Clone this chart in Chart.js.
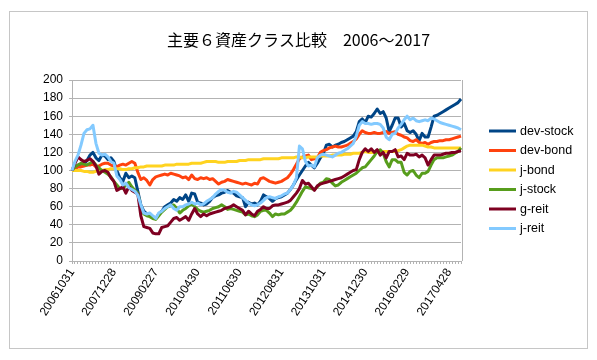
<!DOCTYPE html>
<html>
<head>
<meta charset="utf-8">
<script src="https://cdn.jsdelivr.net/npm/chart.js@4.4.1/dist/chart.umd.min.js"></script>
<style>
html,body{margin:0;padding:0;background:#fff;}
#wrap{position:relative;width:597px;height:360px;}
</style>
</head>
<body>
<div id="wrap"><canvas id="c" width="597" height="360"></canvas></div>
<script>
const chartTitle = "主要６資産クラス比較　2006～2017";
const categories = [
"20061031","20061130","20061229",
"20070131","20070228","20070330","20070427","20070531","20070629","20070731","20070831","20070928","20071031","20071130","20071228",
"20080131","20080229","20080331","20080430","20080530","20080630","20080731","20080829","20080930","20081031","20081128","20081230",
"20090130","20090227","20090331","20090430","20090529","20090630","20090731","20090831","20090930","20091030","20091130","20091230",
"20100129","20100226","20100331","20100430","20100531","20100630","20100730","20100831","20100930","20101029","20101130","20101230",
"20110131","20110228","20110331","20110428","20110531","20110630","20110729","20110831","20110930","20111031","20111130","20111230",
"20120131","20120229","20120330","20120427","20120531","20120629","20120731","20120831","20120928","20121031","20121130","20121228",
"20130131","20130228","20130329","20130430","20130531","20130628","20130731","20130830","20130930","20131031","20131129","20131230",
"20140131","20140228","20140331","20140430","20140530","20140630","20140731","20140829","20140930","20141031","20141128","20141230",
"20150130","20150227","20150331","20150430","20150529","20150630","20150731","20150831","20150930","20151030","20151130","20151230",
"20160129","20160229","20160331","20160428","20160531","20160630","20160729","20160831","20160930","20161031","20161130","20161230",
"20170131","20170228","20170331","20170428","20170531","20170630","20170731","20170831"
];
const shownTickLabels = ["20061031","20071228","20090227","20100430","20110630","20120831","20131031","20141230","20160229","20170428"];
const yTicks = [0,20,40,60,80,100,120,140,160,180,200];

const devStock = [100,103,106,107,107,111,117,120,114,111,117,116,112,114,110,
100,92,88,97,92,94,92,77,62,55,52,51,
49,47,52,55,60,62,64,68,66,70,68,73,
66,75,74,65,64,62,63,66,70,72,73,75,
76,78,76,75,72,71,70,60,65,63,64,62,
66,73,71,69,66,69,70,71,73,75,79,84,
90,95,100,105,109,106,103,108,114,119,128,129,
126,128,129,131,132,134,136,138,143,154,157,153,
160,159,163,168,163,165,158,143,150,158,158,148,
152,144,142,144,140,133,141,137,137,148,160,161,
163,165,167,169,171,173,175,179];
const devBond = [100,102,104,104,105,106,106,107,104,105,107,108,108,106,105,
104,106,107,106,108,110,108,98,90,92,89,84,
90,93,94,95,96,95,97,96,95,94,92,93,
90,95,91,90,92,91,92,90,91,88,85,87,
88,90,89,88,87,86,85,86,85,84,86,85,
91,92,90,88,87,86,87,88,90,92,96,101,
107,113,115,116,117,112,113,114,120,122,123,125,
126,127,126,126,127,128,130,132,135,140,144,142,
141,141,142,141,141,142,143,141,142,143,140,139,
137,136,133,132,134,131,130,131,129,131,132,132,
133,133,134,134,135,136,137,138];
const jBond = [100,100,100,100,99,99,98,98,99,100,100,101,101,102,102,
102,102,101,101,102,102,103,103,104,104,105,105,
105,105,105,105,106,106,106,106,107,107,107,107,
107,108,108,108,108,109,110,110,110,110,109,109,
109,110,110,110,110,111,111,111,112,112,112,112,
112,113,113,113,113,113,113,114,114,114,114,114,
115,115,114,114,115,115,115,115,116,116,116,116,
117,117,117,117,118,118,118,119,119,119,120,121,
120,120,120,120,121,121,121,121,121,121,122,123,
125,127,128,128,128,128,128,127,126,126,125,125,
125,125,125,125,125,125,125,125];
const jStock = [100,104,106,108,107,106,108,110,106,103,100,98,96,93,88,
84,80,80,84,87,82,78,75,58,52,50,49,
47,46,50,54,57,60,61,62,58,53,56,58,
61,63,60,57,55,54,55,56,58,59,60,62,
60,57,58,57,56,55,54,51,52,50,49,51,
55,56,56,53,49,52,51,52,52,54,56,60,
65,71,77,82,81,80,79,82,86,87,91,90,
86,83,84,87,89,91,93,95,97,100,103,104,
108,112,116,121,123,119,110,104,112,112,109,109,
98,95,99,100,95,92,97,97,99,106,112,114,
114,114,115,116,117,119,121,125];
const gReit = [100,108,115,112,110,111,113,110,105,96,99,100,98,92,88,
78,80,82,75,82,78,76,74,50,38,37,36,
31,30,30,37,38,39,43,47,48,45,47,49,
45,52,58,52,49,52,50,52,53,54,55,56,
58,59,60,62,60,58,56,51,55,52,50,55,
57,60,58,58,61,62,62,63,64,65,67,71,
75,80,89,85,86,82,78,83,85,86,87,88,
89,90,91,92,94,96,98,100,101,112,120,124,
121,124,120,123,117,120,114,121,121,123,115,116,
112,119,117,117,118,115,117,114,106,112,117,117,
117,118,119,119,120,120,121,122];
const jReit = [100,110,117,128,141,145,146,150,130,119,117,118,115,110,108,
94,90,84,86,81,79,77,73,62,53,52,53,
50,47,53,55,58,60,62,58,56,60,60,62,
63,65,63,64,62,63,66,68,70,74,77,79,
78,76,75,77,76,73,70,67,64,62,61,62,
64,67,70,71,70,69,71,72,74,75,79,84,
92,127,124,110,105,106,104,114,117,118,117,116,
115,117,119,120,122,124,127,130,138,150,154,152,
152,151,152,152,151,147,137,134,140,141,147,151,
156,160,156,158,155,154,155,156,155,158,157,155,
153,152,151,150,149,148,147,145];

const seriesNames = ["dev-stock","dev-bond","j-bond","j-stock","g-reit","j-reit"];
const seriesValues = [devStock, devBond, jBond, jStock, gReit, jReit];
const seriesColors = ["#004586","#ff420e","#ffd320","#579d1c","#7e0021","#83caff"];

const deco = {
  id: 'deco',
  beforeDraw(chart) {
    const ctx = chart.ctx;
    ctx.save();
    ctx.fillStyle = '#ffffff';
    ctx.fillRect(0, 0, chart.width, chart.height);
    ctx.restore();
  },
  beforeDatasetsDraw(chart) {
    const ctx = chart.ctx, a = chart.chartArea;
    ctx.save();
    ctx.strokeStyle = '#b3b3b3';
    ctx.lineWidth = 1;
    ctx.beginPath();
    ctx.moveTo(Math.round(a.right) + 1.5, a.top);
    ctx.lineTo(Math.round(a.right) + 1.5, a.bottom);
    ctx.stroke();
    ctx.restore();
  },
  afterDraw(chart) {
    const ctx = chart.ctx;
    ctx.save();
    ctx.strokeStyle = '#c6c6c6';
    ctx.lineWidth = 1;
    ctx.strokeRect(9.5, 11.5, 578, 337);
    ctx.fillStyle = '#000';
    ctx.font = '16px "Noto Sans CJK JP", sans-serif';
    ctx.textAlign = 'center';
    ctx.textBaseline = 'middle';
    ctx.fillText(chartTitle, 298.5, 40);
    ctx.font = '12.5px "Liberation Sans", Arial, sans-serif';
    ctx.textAlign = 'left';
    chart.data.datasets.forEach((ds, i) => {
      const y = 131 + i * 19.5;
      ctx.strokeStyle = ds.borderColor;
      ctx.lineWidth = 3;
      ctx.beginPath();
      ctx.moveTo(489, y);
      ctx.lineTo(516, y);
      ctx.stroke();
      ctx.fillStyle = '#000';
      ctx.fillText(ds.label, 520, y + 0.5);
    });
    ctx.restore();
  }
};

new Chart(document.getElementById('c'), {
  type: 'line',
  data: {
    labels: categories,
    datasets: seriesNames.map((name, i) => ({
      label: name,
      data: seriesValues[i],
      borderColor: seriesColors[i],
      backgroundColor: seriesColors[i],
      borderWidth: 3,
      pointRadius: 0,
      tension: 0,
      borderJoinStyle: 'round',
      order: seriesNames.length - i
    }))
  },
  options: {
    responsive: false,
    devicePixelRatio: 1,
    animation: false,
    events: [],
    layout: { padding: { top: 80, left: 20, right: 136, bottom: 12 } },
    plugins: {
      legend: { display: false },
      title: { display: false },
      tooltip: { enabled: false }
    },
    scales: {
      x: {
        type: 'category',
        offset: false,
        afterFit(s) { s.height = 87; },
        grid: { drawOnChartArea: false, drawTicks: true, tickLength: 3, color: '#b3b3b3' },
        border: { display: true, color: '#b3b3b3', width: 1 },
        ticks: {
          autoSkip: false,
          minRotation: 57,
          maxRotation: 57,
          padding: 2,
          color: '#000',
          font: { family: '"Liberation Sans", Arial, sans-serif', size: 12 },
          callback(value) {
            const lab = this.getLabelForValue(value);
            return shownTickLabels.includes(lab) ? lab : '';
          }
        }
      },
      y: {
        min: yTicks[0],
        max: yTicks[yTicks.length - 1],
        afterFit(s) { s.width = 52; },
        afterBuildTicks(s) { s.ticks = yTicks.map(v => ({ value: v })); },
        grid: { color: '#b3b3b3', tickLength: 3 },
        border: { display: true, color: '#b3b3b3' },
        ticks: {
          padding: 6,
          color: '#000',
          font: { family: '"Liberation Sans", Arial, sans-serif', size: 12 }
        }
      }
    }
  },
  plugins: [deco]
});
</script>
</body>
</html>
